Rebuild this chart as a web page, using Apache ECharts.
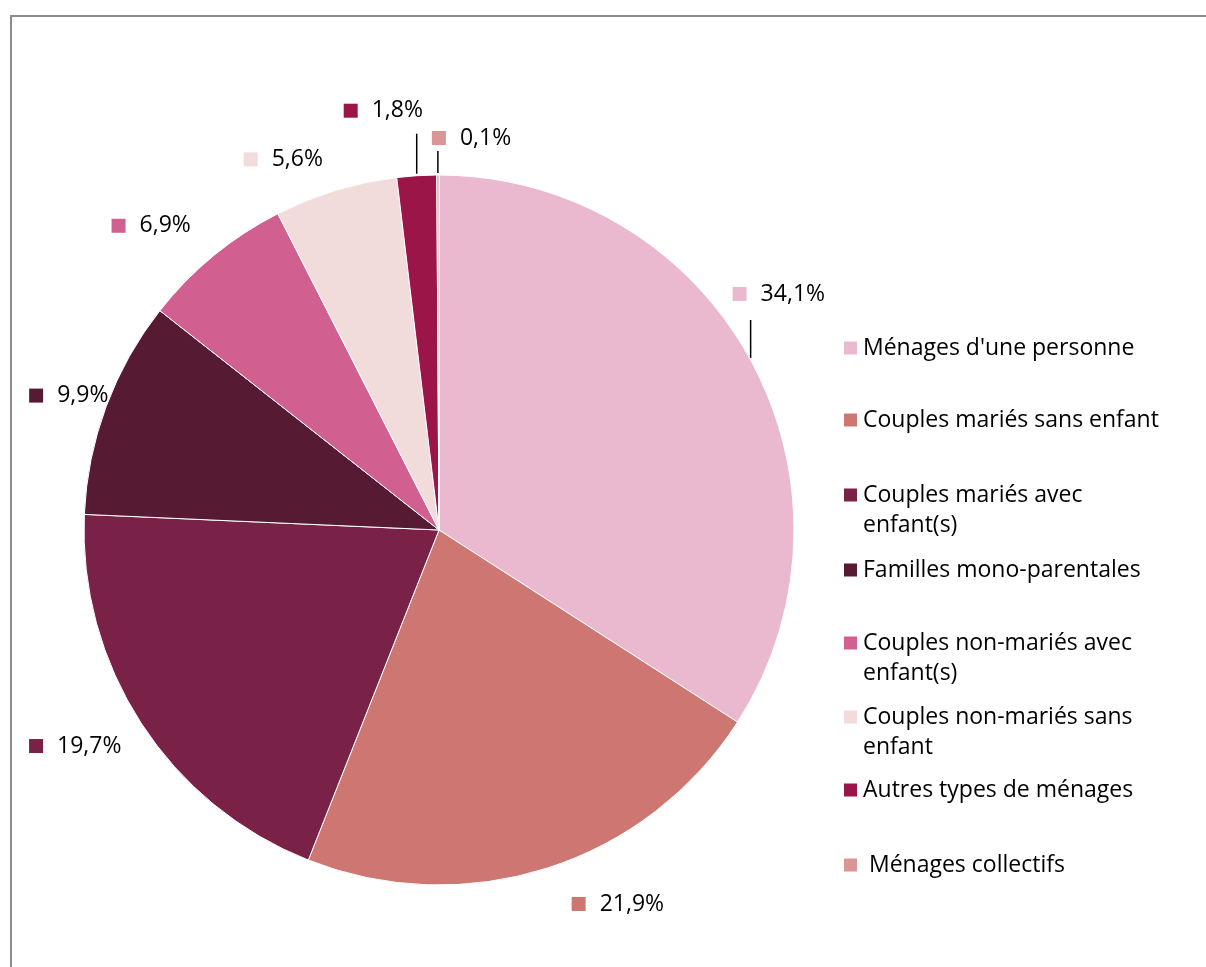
<!DOCTYPE html>
<html><head><meta charset="utf-8">
<script src="https://cdn.jsdelivr.net/npm/echarts@6/dist/echarts.min.js"></script>
<style>html,body{margin:0;padding:0;background:#fff}#c{width:1206px;height:967px}</style>
</head><body><div id="c"></div>
<script>
const categories = ["Ménages d'une personne","Couples mariés sans enfant","Couples mariés avec enfant(s)","Familles mono-parentales","Couples non-mariés avec enfant(s)","Couples non-mariés sans enfant","Autres types de ménages","Ménages collectifs"];
const values = [34.1, 21.9, 19.7, 9.9, 6.9, 5.6, 1.8, 0.1];
const legendLines = [["Ménages d'une personne"],["Couples mariés sans enfant"],["Couples mariés avec","enfant(s)"],["Familles mono-parentales"],["Couples non-mariés avec","enfant(s)"],["Couples non-mariés sans","enfant"],["Autres types de ménages"],[" Ménages collectifs"]];
const colors = ['#EBB9CF','#CD7672','#7A2148','#561A33','#D16090','#F2DCDB','#9B1548','#D99694'];

// layout (style) constants
const CX = 439, CY = 530, R = 355;
const FONT = '"Open Sans", Lato, sans-serif';
const FS = 23;
const labelOffsets = [[-18,-66],[24,36],[-112,23],[-77,-11],[-102,-30],[-92,-31],[-73,-65],[-6,-37]];
const leaderLen = [40,0,0,0,0,0,42,24];
const legendCenters = [348,420,495,570,643,717,790,865];

const total = values.reduce((a,b)=>a+b,0);
let acc = 0;
const mids = values.map(v => { const m = (acc + v/2)/total*2*Math.PI; acc += v; return m; });
function edge(i){ return [CX + R*Math.sin(mids[i]), CY - R*Math.cos(mids[i])]; }

const rich = { t: { fontFamily: FONT, fontSize: FS, color: '#000', padding: [0,0,0,14] } };
colors.forEach((c,i)=>{ rich['m'+i] = { backgroundColor: c, width: 14, height: 14 }; });

const chart = echarts.init(document.getElementById('c'), null, {renderer:'canvas'});
chart.setOption({
  animation: false,
  color: colors,
  graphic: [{ type:'rect', silent:true, z:-10, shape:{x:11,y:16,width:1400,height:1200}, style:{fill:'none', stroke:'#8c8c8c', lineWidth:2} }],
  legend: categories.map((name,i)=>({
    data:[name], left:842, top: legendCenters[i] - 15 - (legendLines[i].length>1 ? 30 : 0),
    orient:'vertical', padding:0, itemWidth:15, itemHeight:15, icon:'rect', itemGap:0, selectedMode:false,
    formatter: () => (legendLines[i].length>1 ? '\n' : '') + legendLines[i].join('\n'),
    textStyle:{ fontFamily: FONT, fontSize: FS, color:'#000', lineHeight:30 }
  })),
  series: [{
    type:'pie', center:[CX,CY], radius:R, startAngle:90, clockwise:true, avoidLabelOverlap:false,
    itemStyle:{ borderColor:'#fff', borderWidth:1 },
    emphasis:{ disabled:true },
    data: categories.map((n,i)=>({ name:n, value:values[i], labelLine:{ show: leaderLen[i] > 0 } })),
    label:{ show:true, position:'outside', color:'#000',
      formatter: p => '{m' + p.dataIndex + '|}{t|' + p.value.toFixed(1).replace('.', ',') + '%}',
      rich: rich },
    labelLine:{ show:true, length:10, length2:10, lineStyle:{ color:'#000', width:1.5 } },
    labelLayout: function(p){
      const i = p.dataIndex, e = edge(i), o = labelOffsets[i];
      const r = { x: e[0]+o[0], y: e[1]+o[1], align:'left', verticalAlign:'middle' };
      if (leaderLen[i] > 0) {
        r.labelLinePoints = [[e[0], e[1]-2], [e[0], e[1]-leaderLen[i]], [e[0], e[1]-leaderLen[i]]];
      }
      return r;
    }
  }]
});
</script></body></html>
